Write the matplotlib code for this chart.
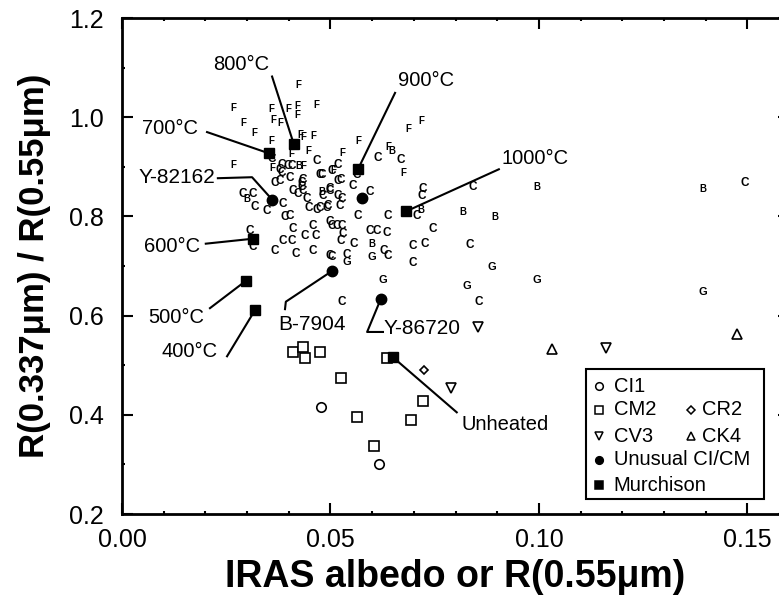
import matplotlib
matplotlib.use("Agg")
import matplotlib.pyplot as plt
from matplotlib.patches import Rectangle
from matplotlib.ticker import MultipleLocator

plt.rcParams["font.family"] = ["Liberation Sans", "DejaVu Sans"]

# --- letter-coded points (spectral classes) ---
f_x = [0.0266, 0.0290, 0.0317, 0.0357, 0.0364, 0.0379, 0.0398, 0.0420, 0.0420, 0.0422,
       0.0357, 0.0405, 0.0266, 0.0465, 0.0427, 0.0436, 0.0458, 0.0446, 0.0568, 0.0528,
       0.0506, 0.0434, 0.0686, 0.0717, 0.0638, 0.0676, 0.0360]
f_y = [1.019, 0.988, 0.968, 1.016, 0.994, 0.989, 1.016, 1.023, 1.004, 1.065,
       0.952, 0.925, 0.903, 1.025, 0.964, 0.960, 0.962, 0.931, 0.952, 0.927,
       0.893, 0.901, 0.976, 0.992, 0.940, 0.887, 0.897]

c_x = [0.0360, 0.0384, 0.0384, 0.0408, 0.0379, 0.0468, 0.0475, 0.0518, 0.0504, 0.0290,
       0.0314, 0.0319, 0.0348, 0.0367, 0.0379, 0.0386, 0.0391, 0.0403, 0.0410, 0.0386,
       0.0408, 0.0439, 0.0458, 0.0367, 0.0417, 0.0458, 0.0432, 0.0434, 0.0410, 0.0422,
       0.0444, 0.0448, 0.0468, 0.0492, 0.0482, 0.0499, 0.0504, 0.0516, 0.0528, 0.0530,
       0.0525, 0.0528, 0.0523, 0.0307, 0.0314, 0.0499, 0.0614, 0.0669, 0.0564, 0.0554,
       0.0595, 0.0722, 0.0719, 0.0842, 0.0707, 0.0746, 0.0727, 0.0698, 0.0834, 0.0698,
       0.0638, 0.0566, 0.0635, 0.0595, 0.0611, 0.0556, 0.0525, 0.0628, 0.0638, 0.0540,
       0.0504, 0.0499, 0.0465, 0.0398, 0.0403, 0.0480, 0.0499, 0.0518, 0.0518, 0.0475,
       0.0494, 0.0434, 0.0432, 0.1494, 0.0856, 0.0528]
c_y = [0.915, 0.903, 0.887, 0.901, 0.893, 0.911, 0.883, 0.903, 0.891, 0.846,
       0.846, 0.818, 0.810, 0.867, 0.871, 0.826, 0.798, 0.800, 0.775, 0.751,
       0.751, 0.761, 0.781, 0.731, 0.725, 0.731, 0.867, 0.852, 0.852, 0.846,
       0.836, 0.816, 0.812, 0.816, 0.842, 0.856, 0.781, 0.781, 0.781, 0.765,
       0.873, 0.836, 0.820, 0.771, 0.739, 0.721, 0.917, 0.913, 0.883, 0.862,
       0.850, 0.856, 0.842, 0.860, 0.800, 0.775, 0.745, 0.741, 0.743, 0.707,
       0.800, 0.800, 0.767, 0.771, 0.771, 0.745, 0.751, 0.731, 0.721, 0.723,
       0.719, 0.789, 0.761, 0.901, 0.877, 0.883, 0.852, 0.871, 0.842, 0.816,
       0.820, 0.873, 0.860, 0.867, 0.627, 0.627]

b_x = [0.0424, 0.0300, 0.0480, 0.0647, 0.0818, 0.0894, 0.0717, 0.0600, 0.0995, 0.1393]
b_y = [0.901, 0.836, 0.850, 0.931, 0.808, 0.798, 0.812, 0.745, 0.860, 0.856]

g_x = [0.0540, 0.0626, 0.0827, 0.0887, 0.0600, 0.0995, 0.1393]
g_y = [0.709, 0.672, 0.660, 0.698, 0.719, 0.672, 0.648]

# --- meteorite groups ---
ci1_x = [0.0477, 0.0616]
ci1_y = [0.415, 0.301]
cm2_x = [0.0410, 0.0434, 0.0439, 0.0475, 0.0525, 0.0564, 0.0604, 0.0693, 0.0722, 0.0635]
cm2_y = [0.526, 0.536, 0.514, 0.526, 0.474, 0.395, 0.338, 0.390, 0.427, 0.514]
cr2_x = [0.0724]
cr2_y = [0.490]
cv3_x = [0.0789, 0.0854, 0.1161]
cv3_y = [0.455, 0.577, 0.534]
ck4_x = [0.1031, 0.1475]
ck4_y = [0.532, 0.563]
unusual_names = ["Y-82162", "B-7904", "Y-86720", ""]
unusual_x = [0.0360, 0.0504, 0.0621, 0.0576]
unusual_y = [0.834, 0.690, 0.634, 0.838]
murch_names = ["400°C", "500°C", "600°C", "700°C", "800°C", "900°C", "1000°C", "Unheated"]
murch_x = [0.0319, 0.0297, 0.0314, 0.0353, 0.0412, 0.0566, 0.0681, 0.0650]
murch_y = [0.611, 0.670, 0.755, 0.927, 0.946, 0.895, 0.810, 0.516]

# label text positions and leader-line bends (data coords)
murch_lab_x = [0.0163, 0.0129, 0.0120, 0.0115, 0.0285, 0.0729, 0.0990, 0.0918]
murch_lab_y = [0.528, 0.597, 0.739, 0.978, 1.106, 1.075, 0.917, 0.380]
murch_lead = [[(0.0252, 0.518)], [(0.0211, 0.615)], [(0.0201, 0.745)], [(0.0204, 0.970)],
              [(0.0360, 1.082)], [(0.0655, 1.049)], [(0.0904, 0.895)], [(0.0803, 0.405)]]
unusual_lab_x = [0.0132, 0.0456, 0.0719]
unusual_lab_y = [0.878, 0.583, 0.573]
unusual_lead = [[(0.0230, 0.877), (0.0312, 0.879)],
                [(0.0391, 0.613), (0.0393, 0.628)],
                [(0.0626, 0.567), (0.0588, 0.567)]]

fig = plt.figure(figsize=(7.79, 5.97), dpi=100)
ax = fig.add_axes([122 / 779, 83 / 597, 667 / 779, 496 / 597])

for xs, ys, ch, fs, fw in [(f_x, f_y, "F", 7, "bold"), (c_x, c_y, "C", 8.5, "bold"),
                           (b_x, b_y, "B", 7, "bold"), (g_x, g_y, "G", 8, "bold")]:
    for x, y in zip(xs, ys):
        ax.text(x, y, ch, fontsize=fs, fontweight=fw, ha="center", va="center")

ms = 6.8
ax.plot(ci1_x, ci1_y, "o", mfc="white", mec="black", mew=1.2, ms=ms, ls="none")
ax.plot(cm2_x, cm2_y, "s", mfc="white", mec="black", mew=1.2, ms=ms, ls="none")
ax.plot(cr2_x, cr2_y, "D", mfc="white", mec="black", mew=1.2, ms=4.5, ls="none")
ax.plot(cv3_x, cv3_y, "v", mfc="white", mec="black", mew=1.2, ms=ms, ls="none")
ax.plot(ck4_x, ck4_y, "^", mfc="white", mec="black", mew=1.2, ms=ms, ls="none")
ax.plot(unusual_x, unusual_y, "o", color="black", ms=7.5, ls="none")
ax.plot(murch_x, murch_y, "s", color="black", ms=7.8, ls="none")

# leader lines + labels
for name, px, py, lx, ly, bends in zip(murch_names, murch_x, murch_y,
                                       murch_lab_x, murch_lab_y, murch_lead):
    pts = bends + [(px, py)]
    ax.plot([p[0] for p in pts], [p[1] for p in pts], color="black", lw=1.5)
    ax.text(lx, ly, name, fontsize=14.5, ha="center", va="center")
for name, px, py, lx, ly, bends in zip(unusual_names, unusual_x, unusual_y,
                                       unusual_lab_x, unusual_lab_y, unusual_lead):
    pts = bends + [(px, py)]
    ax.plot([p[0] for p in pts], [p[1] for p in pts], color="black", lw=1.5)
    ax.text(lx, ly, name, fontsize=15, ha="center", va="center")

ax.set_xlim(0, 0.16)
ax.set_ylim(0.2, 1.2)
ax.xaxis.set_major_locator(MultipleLocator(0.05))
ax.xaxis.set_minor_locator(MultipleLocator(0.01))
ax.yaxis.set_major_locator(MultipleLocator(0.2))
ax.yaxis.set_minor_locator(MultipleLocator(0.1))
ax.xaxis.set_major_formatter(plt.FuncFormatter(lambda v, p: f"{v:.2f}"))
ax.yaxis.set_major_formatter(plt.FuncFormatter(lambda v, p: f"{v:.1f}"))
ax.tick_params(which="major", direction="in", length=8, width=1.5, top=True, right=True,
               labelsize=18)
ax.tick_params(axis="x", which="major", pad=10)
ax.tick_params(axis="y", which="major", pad=13)
ax.tick_params(which="minor", direction="in", length=2.5, width=1.5, top=True, right=True)
for s in ax.spines.values():
    s.set_linewidth(2)

ax.set_xlabel("IRAS albedo or R(0.55μm)", fontsize=27, fontweight="bold", labelpad=5)
ax.set_ylabel("R(0.337μm) / R(0.55μm)", fontsize=25, fontweight="bold", labelpad=13)

# legend drawn by hand (one- and two-column rows)
ax.add_patch(Rectangle((0.696, 0.030), 0.267, 0.262, transform=ax.transAxes,
                       fill=True, fc="white", ec="black", lw=1.5, zorder=5))
leg_rows = [
    [("o", "white", "CI1")],
    [("s", "white", "CM2"), ("D", "white", "CR2")],
    [("v", "white", "CV3"), ("^", "white", "CK4")],
    [("o", "black", "Unusual CI/CM")],
    [("s", "black", "Murchison")],
]
row_y = [0.258, 0.210, 0.157, 0.109, 0.058]
col_x = [(0.715, 0.737), (0.853, 0.869)]
for ry, row in zip(row_y, leg_rows):
    for (mx, tx), (mk, fc, lab) in zip(col_x, row):
        ax.plot([mx], [ry], mk, mfc=fc, mec="black", mew=1.1, ms=5.5 if mk != "D" else 4,
                transform=ax.transAxes, zorder=6, clip_on=False)
        ax.text(tx, ry, lab, fontsize=14.5, ha="left", va="center",
                transform=ax.transAxes, zorder=6)

fig.savefig("out.png", dpi=100)
